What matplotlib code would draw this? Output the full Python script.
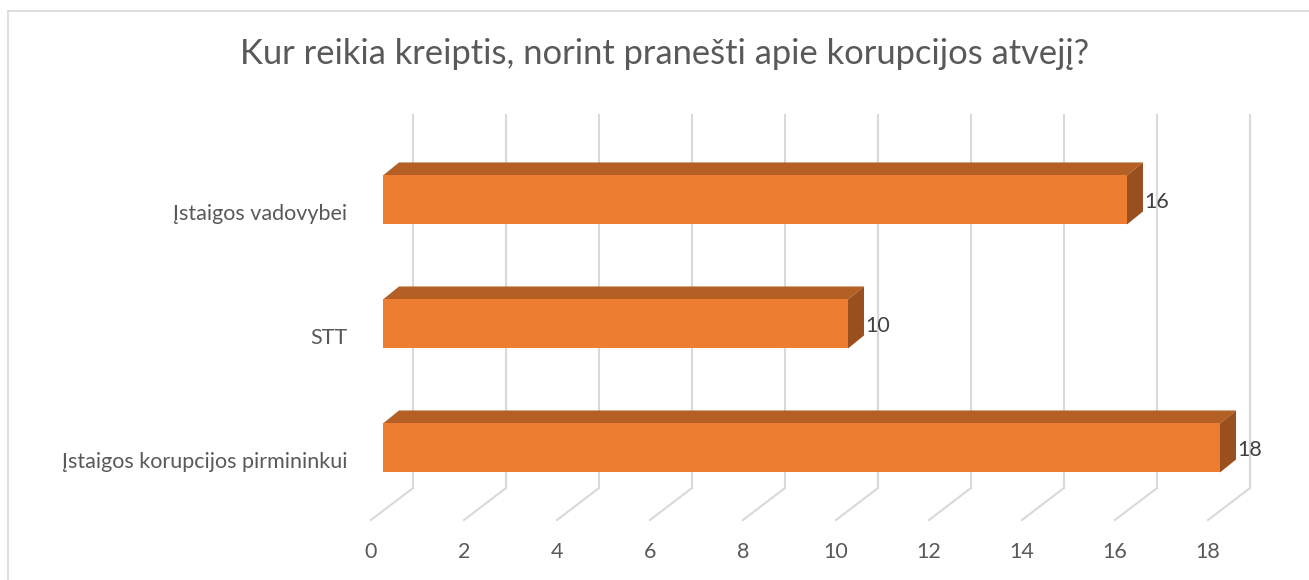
import numpy as np
import matplotlib
matplotlib.use("Agg")
import matplotlib.pyplot as plt
from matplotlib.patches import Polygon, Rectangle
from matplotlib.lines import Line2D

plt.rcParams['font.family'] = ['Lato', 'DejaVu Sans']

categories = ['Įstaigos korupcijos pirmininkui', 'STT', 'Įstaigos vadovybei']
values = [18, 10, 16]
ticks = np.arange(0, 20, 2)
title = 'Kur reikia kreiptis, norint pranešti apie korupcijos atvejį?'

front = '#ED7D31'
top_c = '#B45F24'
side_c = '#9A501E'
grid_c = '#D9D9D9'
txt_c = '#595959'

W, H = 1309, 580
fig = plt.figure(figsize=(W / 100, H / 100), dpi=100)

# axes in pixels: left = front zero, bottom = floor front edge
ax_l, ax_b, ax_w, ax_h = 383, 60, 18 * 46.5, 405
ax = fig.add_axes([ax_l / W, ax_b / H, ax_w / W, ax_h / H])
xmin, xmax = 0, 18
ymin, ymax = -0.5806, 2.685
ax.set_xlim(xmin, xmax)
ax.set_ylim(ymin, ymax)
ax.axis('off')

sx = ax_w / (xmax - xmin)   # px per value unit
sy = ax_h / (ymax - ymin)   # px per category unit
px = lambda d: d / sx
py = lambda d: d / sy

bar_h = 49 / sy
dep_x, dep_y = px(16), py(13)      # bar depth
wall_x = px(30)                    # back wall offset
floor_back = ymin + py(32)
floor_front_x = px(-12)

# gridlines on back wall + floor
for t in ticks:
    ax.add_line(Line2D([t + wall_x, t + wall_x], [floor_back, ymax],
                       color=grid_c, lw=1.5, zorder=1, clip_on=False))
    ax.add_line(Line2D([t + wall_x, t + floor_front_x], [floor_back, ymin],
                       color=grid_c, lw=1.5, zorder=1, clip_on=False))
    ax.text(t + floor_front_x, ymin - py(32), str(t), ha='center', va='center',
            fontsize=15.5, color=txt_c)

# 3D bars
for i, v in enumerate(values):
    y0 = i - bar_h / 2
    y1 = i + bar_h / 2
    ax.add_patch(Polygon([(0, y1), (v, y1), (v + dep_x, y1 + dep_y), (dep_x, y1 + dep_y)],
                         closed=True, facecolor=top_c, edgecolor='none', zorder=3, clip_on=False))
    ax.add_patch(Polygon([(v, y0), (v + dep_x, y0 + dep_y), (v + dep_x, y1 + dep_y), (v, y1)],
                         closed=True, facecolor=side_c, edgecolor='none', zorder=3, clip_on=False))
    ax.add_patch(Rectangle((0, y0), v, bar_h, facecolor=front, edgecolor='none',
                           zorder=4, clip_on=False))
    ax.text(v + dep_x + px(1), i - py(2), str(v), ha='left', va='center', fontsize=15.5,
            color='#404040', zorder=5)
    ax.text(px(-36), i - py(14), categories[i], ha='right', va='center', fontsize=15.5,
            color=txt_c)

fig.text(665 / W, 1 - 54 / H, title, ha='center', va='center', fontsize=24.8, color=txt_c)

# chart border (top and left visible)
fig.add_artist(Line2D([8 / W, 1.01], [1 - 11 / H, 1 - 11 / H], color=grid_c, lw=1.2,
                      transform=fig.transFigure))
fig.add_artist(Line2D([8 / W, 8 / W], [-0.01, 1 - 11 / H], color=grid_c, lw=1.2,
                      transform=fig.transFigure))

fig.savefig('out.png', dpi=100, facecolor='white')
